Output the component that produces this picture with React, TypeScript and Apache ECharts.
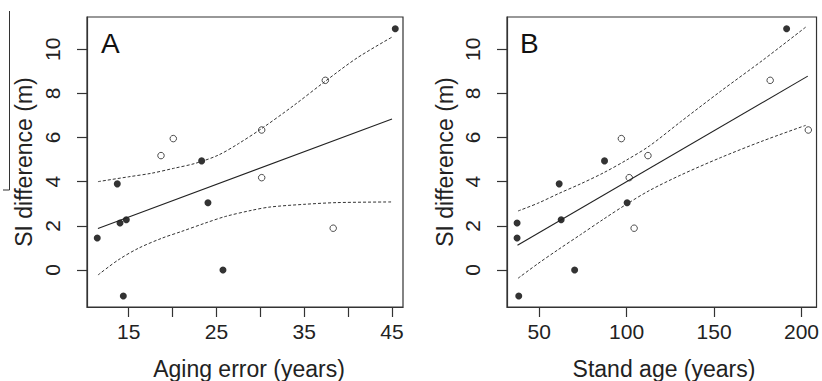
import React, { useEffect, useRef } from "react";
import * as echarts from "echarts";

// ---- Data ----
const siDifference = [3.9, 5.18, 5.95, 4.94, 6.34, 4.18, 8.59, 10.93, 1.45, 2.13, 2.27, 3.04, 0.0, -1.18, 1.89];
const agingError = [13.7, 18.68, 20.08, 23.31, 30.15, 30.15, 37.4, 45.37, 11.42, 14.01, 14.73, 24.03, 25.74, 14.39, 38.3];
const standAge = [61.44, 112.2, 97.0, 87.37, 203.9, 101.5, 182.1, 191.5, 37.37, 37.37, 62.57, 100.3, 70.28, 38.33, 104.3];
const openSymbol = [false, true, true, false, true, true, true, false, false, false, false, false, false, false, true];

// Panel A fitted line and confidence band
const fitAX = [11.5, 45.0];
const fitAY = [1.88, 6.84];
const upperAX = [11.5, 15, 17.6, 20.1, 22.6, 25.2, 27.5, 30.2, 33.8, 37.4, 41, 45];
const upperAY = [4.0, 4.22, 4.38, 4.6, 4.83, 5.2, 5.72, 6.42, 7.45, 8.55, 9.6, 10.55];
const lowerAX = [11.5, 13.8, 16.1, 18.8, 21, 23.7, 26, 29, 31.1, 34.9, 38.7, 45];
const lowerAY = [-0.23, 0.45, 0.98, 1.44, 1.74, 2.12, 2.42, 2.7, 2.85, 2.97, 3.05, 3.08];

// Panel B fitted line and confidence band
const fitBX = [37.6, 203.6];
const fitBY = [1.12, 8.78];
const upperBX = [37.9, 49.2, 61.4, 73.7, 86.8, 100, 113.1, 131, 153.5, 178, 202.4];
const upperBY = [2.67, 3.02, 3.47, 3.9, 4.4, 4.98, 5.62, 6.72, 8.08, 9.51, 11.0];
const lowerBX = [37.9, 49.2, 60.5, 73.7, 86.8, 100, 113.1, 131, 153.5, 178, 202.4];
const lowerBY = [-0.38, 0.28, 0.9, 1.6, 2.3, 2.98, 3.6, 4.3, 5.08, 5.85, 6.55];

// Ticks
const yTicks = [0, 2, 4, 6, 8, 10];
const agingTicks = [15, 20, 25, 30, 35, 40, 45];
const agingLabels = [15, 25, 35, 45];
const standTicks = [50, 100, 150, 200];

const FONT = "'Liberation Sans', Arial, Helvetica, sans-serif";
const INK = "#222";
const BOX = "#333";

const pairs = (xs: number[], ys: number[]) => xs.map((x, i) => [x, ys[i]]);
const pick = (xs: number[], open: boolean) =>
  xs.map((x, i) => [x, siDifference[i], openSymbol[i]]).filter((d) => d[2] === open).map((d) => [d[0], d[1]]);

function makeYAxis(gridIndex: number) {
  return {
    type: "value",
    gridIndex,
    min: -1.68,
    max: 11.46,
    axisLine: { show: true, onZero: false, lineStyle: { color: BOX, width: 1.2 } },
    splitLine: { show: false },
    axisTick: { show: true, inside: false, length: 10, customValues: yTicks, lineStyle: { color: BOX, width: 1.2 } },
    axisLabel: {
      customValues: yTicks,
      rotate: 90,
      margin: 24,
      fontSize: 21,
      color: INK,
      fontFamily: FONT,
    },
  };
}

function makeXAxis(gridIndex: number, min: number, max: number, ticks: number[], labels: number[]) {
  return {
    type: "value",
    gridIndex,
    min,
    max,
    axisLine: { show: true, onZero: false, lineStyle: { color: BOX, width: 1.2 } },
    splitLine: { show: false },
    axisTick: { show: true, inside: false, length: 10, customValues: ticks, lineStyle: { color: BOX, width: 1.2 } },
    axisLabel: {
      customValues: labels,
      margin: 14,
      fontSize: 21,
      color: INK,
      fontFamily: FONT,
    },
  };
}

function panelSeries(idx: number, xs: number[], fx: number[], fy: number[], ux: number[], uy: number[], lx: number[], ly: number[]) {
  const dashed = { color: BOX, width: 1, type: [3, 2] };
  return [
    { type: "line", xAxisIndex: idx, yAxisIndex: idx, data: pairs(ux, uy), symbol: "none", smooth: 0.3, lineStyle: dashed, silent: true },
    { type: "line", xAxisIndex: idx, yAxisIndex: idx, data: pairs(lx, ly), symbol: "none", smooth: 0.3, lineStyle: dashed, silent: true },
    { type: "line", xAxisIndex: idx, yAxisIndex: idx, data: pairs(fx, fy), symbol: "none", lineStyle: { color: INK, width: 1.1 }, silent: true },
    {
      type: "scatter",
      xAxisIndex: idx,
      yAxisIndex: idx,
      data: pick(xs, false),
      symbol: "circle",
      symbolSize: 7,
      itemStyle: { color: "#000" },
    },
    {
      type: "scatter",
      xAxisIndex: idx,
      yAxisIndex: idx,
      data: pick(xs, true),
      symbol: "circle",
      symbolSize: 6.5,
      itemStyle: { color: "#fff", borderColor: INK, borderWidth: 1 },
    },
  ];
}

export default function App() {
  const ref = useRef<HTMLDivElement>(null);
  useEffect(() => {
    if (!ref.current) return;
    const chart = echarts.init(ref.current, null, { renderer: "svg" });
    const titleStyle = { fontSize: 23, fill: INK, fontFamily: FONT, textAlign: "center", textVerticalAlign: "middle" };
    chart.setOption({
      animation: false,
      backgroundColor: "#fff",
      grid: [
        { left: 87, top: 17, width: 316, height: 290, show: true, borderColor: BOX, borderWidth: 1.2 },
        { left: 507, top: 17, width: 314, height: 290, show: true, borderColor: BOX, borderWidth: 1.2 },
      ],
      xAxis: [
        makeXAxis(0, 10.25, 46.25, agingTicks, agingLabels),
        makeXAxis(1, 31.6, 208.6, standTicks, standTicks),
      ],
      yAxis: [makeYAxis(0), makeYAxis(1)],
      series: [
        ...panelSeries(0, agingError, fitAX, fitAY, upperAX, upperAY, lowerAX, lowerAY),
        ...panelSeries(1, standAge, fitBX, fitBY, upperBX, upperBY, lowerBX, lowerBY),
      ],
      graphic: [
        { type: "text", x: 101, y: 43, style: { text: "A", fontSize: 28, fill: "#111", fontFamily: FONT, textVerticalAlign: "middle" } },
        { type: "text", x: 520, y: 43, style: { text: "B", fontSize: 28, fill: "#111", fontFamily: FONT, textVerticalAlign: "middle" } },
        { type: "text", x: 249, y: 369, style: { ...titleStyle, text: "Aging error (years)" } },
        { type: "text", x: 664, y: 369, style: { ...titleStyle, text: "Stand age (years)" } },
        { type: "text", x: 24, y: 162, rotation: Math.PI / 2, style: { ...titleStyle, text: "SI difference (m)" } },
        { type: "text", x: 445, y: 162, rotation: Math.PI / 2, style: { ...titleStyle, text: "SI difference (m)" } },
        { type: "line", shape: { x1: 9.5, y1: 11, x2: 9.5, y2: 190 }, style: { stroke: "#333", lineWidth: 1 } },
        { type: "line", shape: { x1: 3, y1: 190, x2: 9.5, y2: 190 }, style: { stroke: "#333", lineWidth: 1 } },
      ],
    });
    return () => chart.dispose();
  }, []);
  return <div ref={ref} style={{ position: "absolute", left: 0, top: 0, width: 822, height: 381 }} />;
}
